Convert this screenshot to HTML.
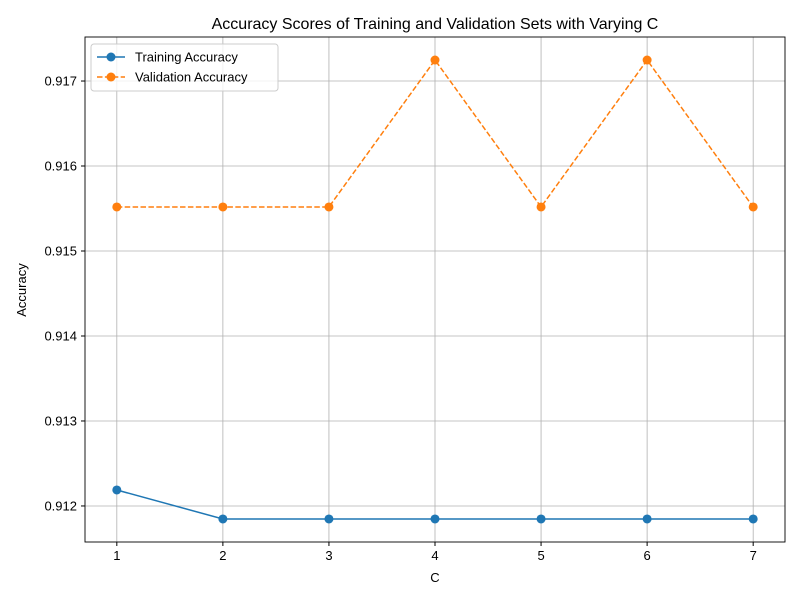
<!DOCTYPE html>
<html><head><meta charset="utf-8"><style>
body{margin:0;background:#fff;font-family:"Liberation Sans","DejaVu Sans",sans-serif}
svg text{font-family:"Liberation Sans","DejaVu Sans",sans-serif}
</style></head><body>
<svg id="chart" width="800" height="600" xmlns="http://www.w3.org/2000/svg"></svg>
<script>
const categories=[1,2,3,4,5,6,7];
const trainingAcc=[0.912188,0.911847,0.911847,0.911847,0.911847,0.911847,0.911847];
const validationAcc=[0.915518,0.915518,0.915518,0.917247,0.915518,0.917247,0.915518];
const yTicks=[0.912,0.913,0.914,0.915,0.916,0.917];
const yTickLabels=["0.912","0.913","0.914","0.915","0.916","0.917"];

const L=85,R=785,T=37,B=542;
const xMin=0.7,xMax=7.3,yMin=0.911576,yMax=0.917518;
const x=v=>L+(v-xMin)/(xMax-xMin)*(R-L);
const y=v=>B-(v-yMin)/(yMax-yMin)*(B-T);
const svg=document.getElementById('chart');
const NS='http://www.w3.org/2000/svg';
function mk(tag,attrs,parent){const e=document.createElementNS(NS,tag);for(const k in attrs)e.setAttribute(k,attrs[k]);(parent||svg).appendChild(e);return e;}

const grid=mk('g',{});


categories.forEach(c=>{mk('line',{x1:x(c),x2:x(c),y1:T,y2:B,stroke:'#b0b0b0','stroke-width':0.8},grid);});
yTicks.forEach(v=>{mk('line',{x1:L,x2:R,y1:y(v),y2:y(v),stroke:'#b0b0b0','stroke-width':0.8},grid);});

const xt=mk('g',{});


categories.forEach(c=>{mk('line',{x1:x(c),x2:x(c),y1:B,y2:B+4,stroke:'#000'},xt);
const t=mk('text',{x:x(c),y:B+18,'text-anchor':'middle','font-size':13},xt);t.textContent=c;});
const yt=mk('g',{});


yTicks.forEach((v,i)=>{mk('line',{x1:L-4,x2:L,y1:y(v),y2:y(v),stroke:'#000'},yt);
const t=mk('text',{x:L-8,y:y(v)+4.5,'text-anchor':'end','font-size':13},yt);t.textContent=yTickLabels[i];});

function series(vals,color,dash,name){
 const g=mk('g',{});
 
 
 mk('polyline',{points:vals.map((v,i)=>x(categories[i])+','+y(v)).join(' '),fill:'none',stroke:color,'stroke-width':1.5,'stroke-dasharray':dash},g);
 vals.forEach((v,i)=>{const p=mk('circle',{cx:x(categories[i]),cy:y(v),r:4.5,fill:color},g);
 
 });
}
series(trainingAcc,'#1f77b4','','training-series');
series(validationAcc,'#ff7f0e','5.5,2.4','validation-series');

mk('rect',{x:L,y:T,width:R-L,height:B-T,fill:'none',stroke:'#000','stroke-width':0.9});
</script>
<svg width="800" height="600" style="position:absolute;left:0;top:0" xmlns="http://www.w3.org/2000/svg">
<text x="435" y="29" text-anchor="middle" font-size="16">Accuracy Scores of Training and Validation Sets with Varying C</text>
<text x="435" y="582" text-anchor="middle" font-size="13">C</text>
<text x="26" y="290" text-anchor="middle" font-size="13" transform="rotate(-90 26 290)">Accuracy</text>
<g>
<rect x="91" y="44" width="187" height="47" rx="3" fill="#fff" fill-opacity="0.8" stroke="#ccc"/>
<g>
<line x1="97" x2="125" y1="57" y2="57" stroke="#1f77b4" stroke-width="1.5"/><circle cx="111" cy="57" r="4.5" fill="#1f77b4"/>
<text x="135" y="61.5" font-size="13">Training Accuracy</text></g>
<g>
<line x1="97" x2="125" y1="77" y2="77" stroke="#ff7f0e" stroke-width="1.5" stroke-dasharray="5.5,2.4"/><circle cx="111" cy="77" r="4.5" fill="#ff7f0e"/>
<text x="135" y="81.5" font-size="13">Validation Accuracy</text></g>
</g>
</svg>
</body></html>
